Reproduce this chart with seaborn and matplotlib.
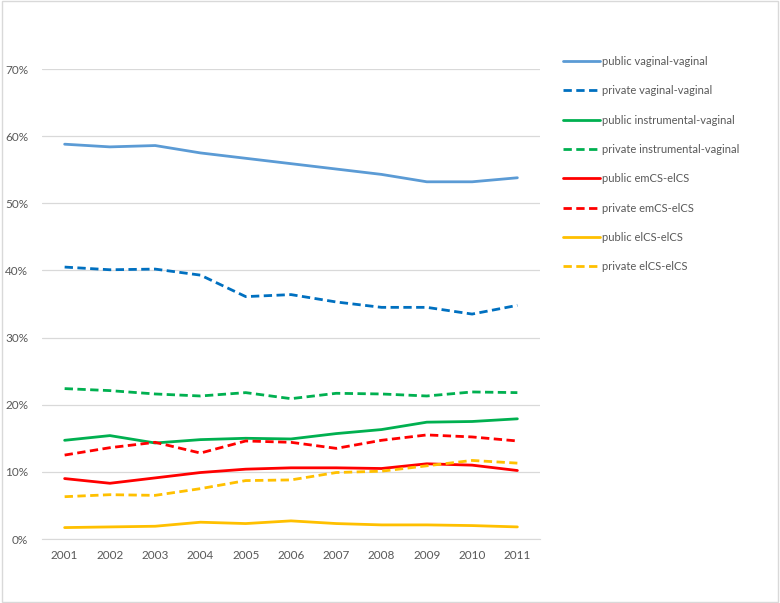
import pandas as pd
import seaborn as sns
import matplotlib.pyplot as plt
from matplotlib.patches import Rectangle
from matplotlib.ticker import PercentFormatter

# --- data (share of births, %) ---
years = list(range(2001, 2012))

public_vag_vag = [58.8, 58.4, 58.6, 57.5, 56.7, 55.9, 55.1, 54.3, 53.2, 53.2, 53.8]
private_vag_vag = [40.5, 40.1, 40.2, 39.3, 36.1, 36.4, 35.3, 34.5, 34.5, 33.5, 34.8]
public_instr_vag = [14.7, 15.4, 14.3, 14.8, 15.0, 14.9, 15.7, 16.3, 17.4, 17.5, 17.9]
private_instr_vag = [22.4, 22.1, 21.6, 21.3, 21.8, 20.9, 21.7, 21.6, 21.3, 21.9, 21.8]
public_emcs_elcs = [9.0, 8.3, 9.1, 9.9, 10.4, 10.6, 10.6, 10.5, 11.2, 11.0, 10.2]
private_emcs_elcs = [12.5, 13.6, 14.4, 12.8, 14.6, 14.4, 13.5, 14.7, 15.5, 15.2, 14.6]
public_elcs_elcs = [1.7, 1.8, 1.9, 2.5, 2.3, 2.7, 2.3, 2.1, 2.1, 2.0, 1.8]
private_elcs_elcs = [6.3, 6.6, 6.5, 7.5, 8.7, 8.8, 9.9, 10.1, 10.9, 11.7, 11.3]

series_names = [
    "public vaginal-vaginal", "private vaginal-vaginal",
    "public instrumental-vaginal", "private instrumental-vaginal",
    "public emCS-elCS", "private emCS-elCS",
    "public elCS-elCS", "private elCS-elCS",
]
series_values = [
    public_vag_vag, private_vag_vag,
    public_instr_vag, private_instr_vag,
    public_emcs_elcs, private_emcs_elcs,
    public_elcs_elcs, private_elcs_elcs,
]
colors = ["#5B9BD5", "#0070C0", "#00B050", "#00B050",
          "#FF0000", "#FF0000", "#FFC000", "#FFC000"]
dashed = [False, True, False, True, False, True, False, True]

sns.set_style("white")
plt.rcParams['font.family'] = ['Lato', 'DejaVu Sans']

fig = plt.figure(figsize=(7.8, 6.03), dpi=100)
ax = fig.add_axes([42 / 780, 64 / 603, 498 / 780, 470 / 603])

for name, vals, col, dsh in zip(series_names, series_values, colors, dashed):
    df = pd.DataFrame({"year": years, "value": vals})
    sns.lineplot(data=df, x="year", y="value", ax=ax, color=col,
                 linewidth=2.0, label=name)
    ln = ax.get_lines()[-1]
    if dsh:
        ln.set_dashes((3.0, 1.6))

ax.set_xlim(2000.5, 2011.5)
ax.set_ylim(0, 70)
ax.set_yticks(range(0, 71, 10))
ax.yaxis.set_major_formatter(PercentFormatter(decimals=0))
ax.set_xticks(years)
ax.set_xlabel("")
ax.set_ylabel("")
ax.grid(axis="y", color="#D9D9D9", linewidth=0.9)
ax.set_axisbelow(True)
for s in ["top", "right", "left"]:
    ax.spines[s].set_visible(False)
ax.spines["bottom"].set_color("#D9D9D9")
ax.tick_params(axis="both", length=0, labelsize=8.5, labelcolor="#595959")
ax.tick_params(axis="y", pad=10)
ax.tick_params(axis="x", pad=8)

handles, labels = ax.get_legend_handles_labels()
ax.get_legend().remove()
fig.legend(handles, labels, loc="upper left", bbox_to_anchor=(553 / 780, 1 - 46 / 603),
           frameon=False, fontsize=8.0, handlelength=3.3, handletextpad=0.2,
           labelspacing=1.65, labelcolor="#595959")

# outer chart frame
fig.add_artist(Rectangle((0.002, 0.002), 0.996, 0.996, transform=fig.transFigure,
                         fill=False, edgecolor="#D9D9D9", linewidth=1.0))

fig.savefig("out.png", dpi=100)
